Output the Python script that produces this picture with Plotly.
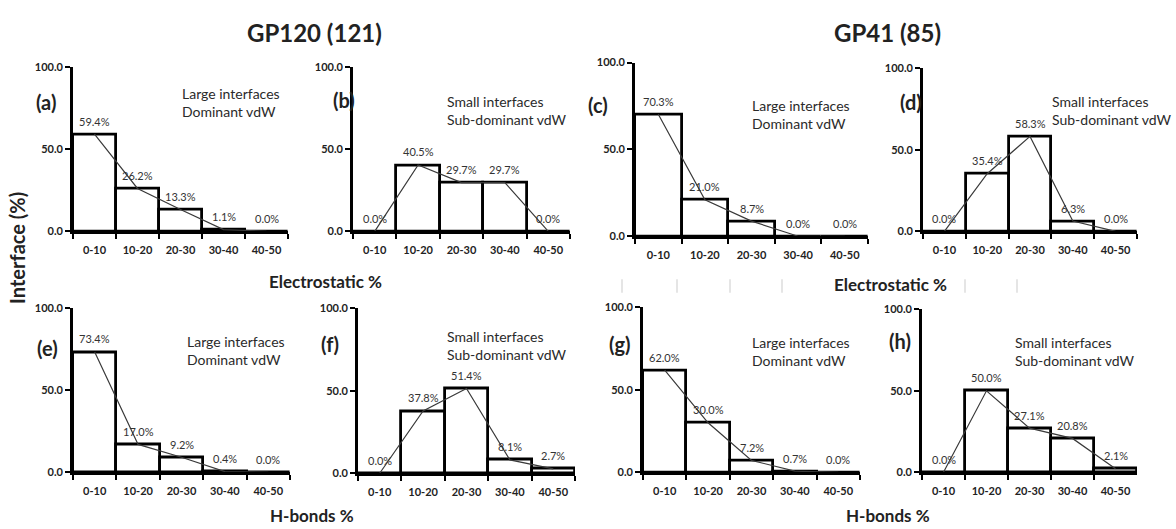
import plotly.graph_objects as go

# Bin labels shared by every panel
bins = ["0-10", "10-20", "20-30", "30-40", "40-50"]

# Percentage of interfaces per bin
elec_gp120_large = [59.4, 26.2, 13.3, 1.1, 0.0]
elec_gp120_small = [0.0, 40.5, 29.7, 29.7, 0.0]
elec_gp41_large = [70.3, 21.0, 8.7, 0.0, 0.0]
elec_gp41_small = [0.0, 35.4, 58.3, 6.3, 0.0]
hb_gp120_large = [73.4, 17.0, 9.2, 0.4, 0.0]
hb_gp120_small = [0.0, 37.8, 51.4, 8.1, 2.7]
hb_gp41_large = [62.0, 30.0, 7.2, 0.7, 0.0]
hb_gp41_small = [0.0, 50.0, 27.1, 20.8, 2.1]

y_ticks = [0, 50, 100]

W, H = 1176, 529
FONT = "Lato"
DARK = "#222222"

LARGE = "Large interfaces<br>Dominant vdW"
SMALL = "Small interfaces<br>Sub-dominant vdW"

# letter, values, description, plot box (x0, x1, ytop, ybottom) in px,
# letter position (x, y), description anchor (x, y top)
panels = [
    ("(a)", elec_gp120_large, LARGE, (73, 288, 62, 230), (46, 97), (180, 78)),
    ("(b)", elec_gp120_small, SMALL, (353, 570, 62, 230), (344, 95), (445, 86)),
    ("(c)", elec_gp41_large, LARGE, (635, 868, 57, 235), (598, 100), (750, 90)),
    ("(d)", elec_gp41_small, SMALL, (923, 1137, 63, 230), (911, 97), (1050, 86)),
    ("(e)", hb_gp120_large, LARGE, (73, 290, 309, 477), (48, 350), (185, 332)),
    ("(f)", hb_gp120_small, SMALL, (358, 575, 309, 478), (330, 345), (445, 327)),
    ("(g)", hb_gp41_large, LARGE, (643, 860, 308, 477), (620, 345), (750, 333)),
    ("(h)", hb_gp41_small, SMALL, (922, 1137, 310, 477), (900, 342), (1013, 333)),
]


def px(x):
    return x / W


def py(y):
    return 1 - y / H


fig = go.Figure()
annotations = []
layout_axes = {}
label_font = dict(family=FONT, size=11, color="#333333")

for i, (letter, values, desc, box, lpos, dpos) in enumerate(panels, start=1):
    xa = "x" if i == 1 else f"x{i}"
    ya = "y" if i == 1 else f"y{i}"
    x0, x1, yt, yb = box

    # outlined histogram bars
    fig.add_trace(go.Bar(
        x=bins, y=values, xaxis=xa, yaxis=ya,
        width=1.0,
        marker=dict(color="white", line=dict(color="black", width=2.8)),
        showlegend=False, hoverinfo="skip",
    ))
    # trend line through the bar tops
    fig.add_trace(go.Scatter(
        x=bins, y=values, xaxis=xa, yaxis=ya, mode="lines",
        line=dict(color="#3a3a3a", width=1.2),
        showlegend=False, hoverinfo="skip", cliponaxis=False,
    ))
    # value printed above each bar
    for b, v in zip(bins, values):
        annotations.append(dict(
            text=f"{v:.1f}%", x=b, y=v, xref=xa, yref=ya,
            xanchor="center", yanchor="middle", yshift=13,
            showarrow=False, font=label_font,
        ))

    key = "" if i == 1 else str(i)
    layout_axes[f"xaxis{key}"] = dict(
        domain=[px(x0), px(x1)], anchor=ya,
        type="category", categoryarray=bins, range=[-0.5, 4.5],
        showline=True, linecolor="black", linewidth=2.8,
        ticks="outside", tickson="boundaries", ticklen=5, tickwidth=2,
        tickcolor="black", ticklabelstandoff=7,
        tickfont=dict(family=FONT, size=11, color=DARK, weight=700),
        showgrid=False, zeroline=False, fixedrange=True,
    )
    layout_axes[f"yaxis{key}"] = dict(
        domain=[py(yb), py(yt)], anchor=xa,
        range=[0, 100], tickvals=y_ticks, tickformat=".1f",
        showline=True, linecolor="black", linewidth=2.8,
        ticks="outside", ticklen=5, tickwidth=2, tickcolor="black",
        tickfont=dict(family=FONT, size=11, color=DARK, weight=700),
        showgrid=False, zeroline=False, fixedrange=True,
    )

    annotations.append(dict(
        text=letter, x=px(lpos[0]), y=py(lpos[1]), xref="paper", yref="paper",
        xanchor="center", yanchor="middle", showarrow=False,
        font=dict(family=FONT, size=20, color=DARK, weight=700),
    ))
    annotations.append(dict(
        text=desc, x=px(dpos[0]), y=py(dpos[1]), xref="paper", yref="paper",
        xanchor="left", yanchor="top", align="left", showarrow=False,
        font=dict(family=FONT, size=14, color="#2a2a2a"),
    ))

# group titles and shared axis titles
for text, x, y, size in [
    ("GP120 (121)", 314, 26, 24),
    ("GP41 (85)", 888, 26, 24),
    ("Electrostatic %", 325, 281, 17),
    ("Electrostatic %", 890, 285, 17),
    ("H-bonds %", 312, 521, 17),
    ("H-bonds %", 888, 521, 17),
]:
    annotations.append(dict(
        text=text, x=px(x), y=py(y), xref="paper", yref="paper",
        xanchor="center", yanchor="middle", showarrow=False,
        font=dict(family=FONT, size=size, color=DARK, weight=700),
    ))

annotations.append(dict(
    text="Interface (%)", x=px(17), y=py(247), xref="paper", yref="paper",
    xanchor="center", yanchor="middle", showarrow=False, textangle=-90,
    font=dict(family=FONT, size=20, color=DARK, weight=700),
))

# faint separator marks in the GP41 gap
shapes = []
for sx in [622, 677, 730, 782, 965, 1017]:
    shapes.append(dict(
        type="line", xref="paper", yref="paper",
        x0=px(sx), x1=px(sx), y0=py(279), y1=py(293),
        line=dict(color="#dddddd", width=1.5),
    ))

fig.update_layout(
    width=W, height=H,
    margin=dict(l=0, r=0, t=0, b=0),
    paper_bgcolor="white", plot_bgcolor="white",
    bargap=0, annotations=annotations, shapes=shapes,
    font=dict(family=FONT, color=DARK),
    **layout_axes,
)

fig.write_html("out.html", config={"displayModeBar": False})
